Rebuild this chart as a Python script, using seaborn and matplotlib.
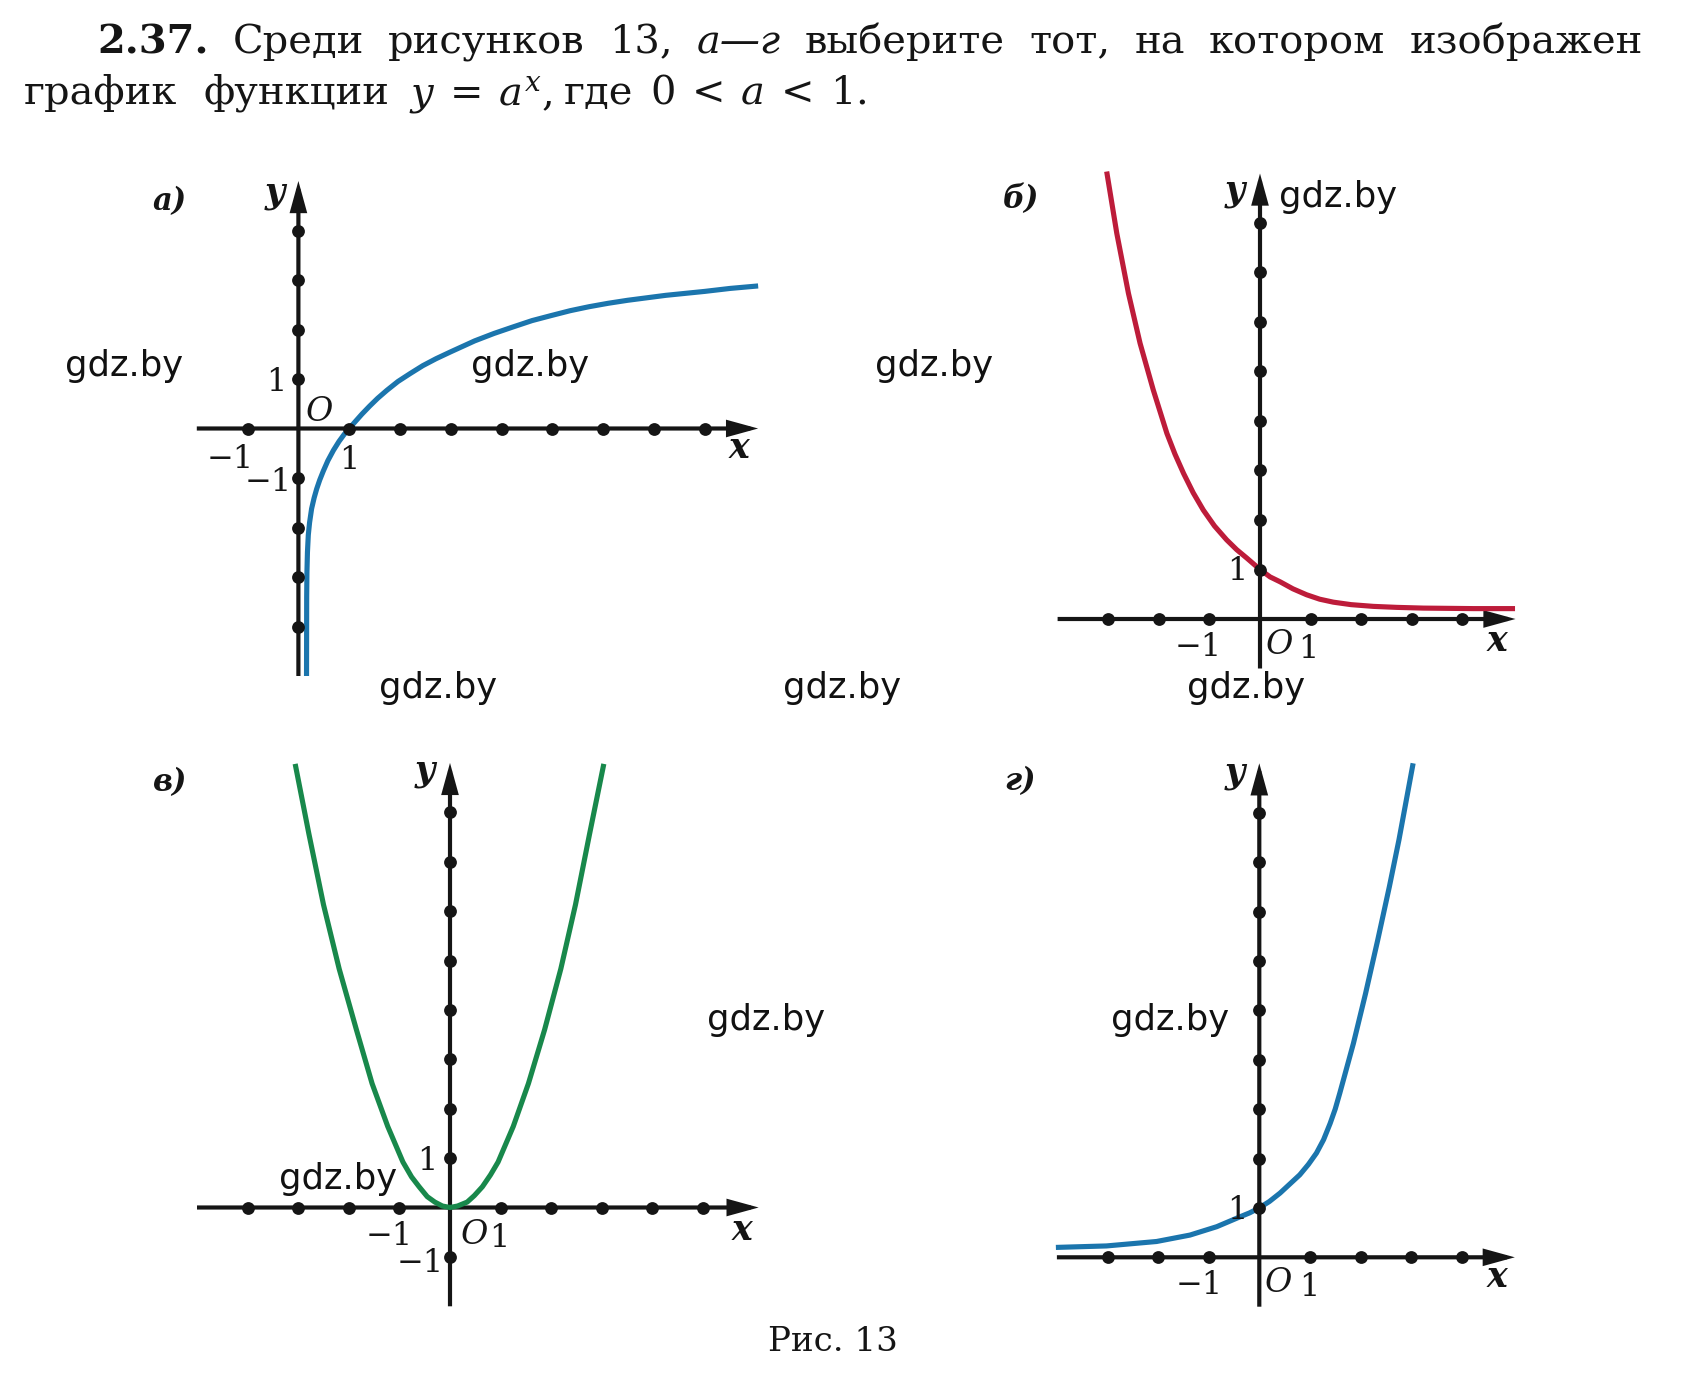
import matplotlib
matplotlib.use("Agg")
import matplotlib.pyplot as plt
import seaborn as sns
import pandas as pd

# ---------------- data ----------------
# panel а) : logarithm-like curve
a_curve_x = [0.16, 0.163, 0.168, 0.178, 0.195, 0.22, 0.26, 0.31, 0.36, 0.42, 0.49, 0.58,
             0.69, 0.80, 0.90, 1.0, 1.12, 1.25, 1.40, 1.56, 1.74, 1.96, 2.2, 2.45, 2.71,
             3.0, 3.47, 3.85, 4.22, 4.6, 4.97, 5.35, 5.72, 6.1, 6.48, 7.23, 8.0, 8.5, 9.05]
a_curve_y = [-5.0, -3.4, -2.9, -2.5, -2.15, -1.9, -1.62, -1.40, -1.22, -1.04, -0.86, -0.65,
             -0.44, -0.26, -0.12, 0.0, 0.14, 0.29, 0.45, 0.61, 0.77, 0.95, 1.11, 1.27, 1.41,
             1.55, 1.77, 1.92, 2.05, 2.18, 2.28, 2.38, 2.46, 2.53, 2.59, 2.69, 2.77, 2.83, 2.88]
a_xdots = [-1, 1, 2, 3, 4, 5, 6, 7, 8]
a_ydots = [-4, -3, -2, -1, 1, 2, 3, 4]
a_xaxis = [-2.0, 9.05]
a_yaxis = [-5.0, 5.0]

# panel б) : decreasing exponent
b_curve_x = [-3.03, -2.83, -2.60, -2.37, -2.11, -1.84, -1.68, -1.51, -1.32, -1.12, -0.90,
             -0.66, -0.46, -0.26, 0.0, 0.20, 0.40, 0.65, 0.92, 1.18, 1.45, 1.80, 2.24, 2.70,
             3.23, 4.22, 5.04]
b_curve_y = [9.04, 7.79, 6.58, 5.57, 4.63, 3.75, 3.33, 2.94, 2.55, 2.20, 1.88,
             1.60, 1.40, 1.23, 1.0, 0.85, 0.75, 0.61, 0.49, 0.40, 0.34, 0.29, 0.255, 0.235,
             0.22, 0.21, 0.21]
b_xdots = [-3, -2, -1, 1, 2, 3, 4]
b_ydots = [1, 2, 3, 4, 5, 6, 7, 8]
b_xaxis = [-4.0, 5.05]
b_yaxis = [-1.0, 9.0]

# panel в) : parabola
c_curve_x = [-3.06, -2.79, -2.50, -2.19, -1.85, -1.54, -1.23, -0.93, -0.76, -0.61, -0.45,
             -0.30, -0.15, 0.0, 0.15, 0.34, 0.48, 0.64, 0.80, 0.95, 1.25, 1.55, 1.87, 2.19,
             2.48, 2.76, 3.04]
c_curve_y = [8.98, 7.57, 6.13, 4.83, 3.60, 2.51, 1.64, 0.92, 0.62, 0.42, 0.22,
             0.11, 0.03, 0.0, 0.03, 0.11, 0.24, 0.42, 0.66, 0.92, 1.64, 2.51, 3.60, 4.83,
             6.13, 7.57, 8.98]
c_xdots = [-4, -3, -2, -1, 1, 2, 3, 4, 5]
c_ydots = [-1, 1, 2, 3, 4, 5, 6, 7, 8]
c_xaxis = [-5.0, 6.1]
c_yaxis = [-2.0, 9.0]

# panel г) : increasing exponent
d_curve_x = [-4.02, -3.02, -2.03, -1.37, -0.84, -0.38, -0.19, 0.0, 0.20, 0.41, 0.80, 0.97,
             1.13, 1.27, 1.40, 1.50, 1.59, 1.86, 2.10, 2.34, 2.57, 2.76, 3.04]
d_curve_y = [0.20, 0.23, 0.32, 0.45, 0.62, 0.82, 0.90, 1.0, 1.13, 1.30, 1.67, 1.88,
             2.11, 2.38, 2.71, 3.0, 3.32, 4.33, 5.34, 6.42, 7.50, 8.45, 10.0]
d_xdots = [-3, -2, -1, 1, 2, 3, 4]
d_ydots = [1, 2, 3, 4, 5, 6, 7, 8, 9]
d_xaxis = [-4.0, 5.05]
d_yaxis = [-1.0, 10.0]

panel_names = ["а)", "б)", "в)", "г)"]
title1_words = ["2.37.", "Среди", "рисунков", "13,", "а—г", "выберите", "тот,", "на",
                "котором", "изображен"]
title2_words = ["график", "функции", r"$y\:=\:a^{x}$,", "где", r"$0\:<\:a\:<\:1$."]
caption = "Рис. 13"
watermark = "gdz.by"

# ---------------- style ----------------
sns.set_style("white")
plt.rcParams['font.family'] = ['DejaVu Serif', 'DejaVu Sans']
plt.rcParams['mathtext.fontset'] = 'dejavuserif'

INK = '#151515'
BLUE = '#1b75ad'
RED = '#bd1c3a'
GREEN = '#18884b'

W, H = 1684, 1384
fig = plt.figure(figsize=(W / 100, H / 100), dpi=100)
fig.patch.set_facecolor('white')


def ftext(px, py, s, **kw):
    return fig.text(px / W, 1 - py / H, s, **kw)


def add_panel(ox, oy, ux, uy, xr, yr):
    xl, xh = xr[0] - 1.2, xr[1] + 1.2
    yl, yh = yr[0] - 1.2, yr[1] + 1.2
    rect = [(ox + xl * ux) / W, 1 - (oy - yl * uy) / H,
            (xh - xl) * ux / W, (yh - yl) * uy / H]
    ax = fig.add_axes(rect)
    ax.set_xlim(xl, xh)
    ax.set_ylim(yl, yh)
    ax.set_axis_off()
    ax.patch.set_alpha(0)
    return ax


def draw_panel(ax, xaxis, yaxis, xdots, ydots, cx, cy, color):
    arrow = dict(arrowstyle='-|>,head_length=0.8,head_width=0.22', lw=3.0,
                 color=INK, shrinkA=0, shrinkB=0, mutation_scale=20,
                 joinstyle='miter', capstyle='butt')
    ax.annotate('', xy=(xaxis[1], 0), xytext=(xaxis[0], 0), arrowprops=arrow, zorder=2)
    ax.annotate('', xy=(0, yaxis[1]), xytext=(0, yaxis[0]), arrowprops=arrow, zorder=2)
    curve = pd.DataFrame({'x': cx, 'y': cy})
    sns.lineplot(data=curve, x='x', y='y', sort=False, estimator=None, color=color,
                 linewidth=3.7, ax=ax, zorder=3, solid_capstyle='butt',
                 solid_joinstyle='round')
    dots = pd.DataFrame({'x': list(xdots) + [0] * len(ydots),
                         'y': [0] * len(xdots) + list(ydots)})
    sns.scatterplot(data=dots, x='x', y='y', s=85, color=INK, linewidth=0, ax=ax, zorder=4)
    ax.set_axis_off()


axA = add_panel(298.4, 428.5, 50.8, 49.5, a_xaxis, a_yaxis)
draw_panel(axA, a_xaxis, a_yaxis, a_xdots, a_ydots, a_curve_x, a_curve_y, BLUE)
axB = add_panel(1260.0, 619.0, 50.6, 49.5, b_xaxis, b_yaxis)
draw_panel(axB, b_xaxis, b_yaxis, b_xdots, b_ydots, b_curve_x, b_curve_y, RED)
axC = add_panel(450.0, 1207.5, 50.6, 49.4, c_xaxis, c_yaxis)
draw_panel(axC, c_xaxis, c_yaxis, c_xdots, c_ydots, c_curve_x, c_curve_y, GREEN)
axD = add_panel(1259.3, 1257.3, 50.6, 49.4, d_xaxis, d_yaxis)
draw_panel(axD, d_xaxis, d_yaxis, d_xdots, d_ydots, d_curve_x, d_curve_y, BLUE)

# ---------------- axis annotations ----------------
num = dict(fontsize=23, color=INK, ha='center', va='baseline', family='DejaVu Serif')
ital = dict(fontsize=24, color=INK, ha='center', va='baseline', family='DejaVu Serif',
            fontstyle='italic')
axl = dict(fontsize=25, color=INK, ha='center', va='baseline', family='DejaVu Serif',
           fontstyle='italic', fontweight='bold')
pnl = dict(fontsize=22, color=INK, ha='center', va='baseline', family='DejaVu Serif',
           fontstyle='italic', fontweight='bold')

# panel а
ftext(170, 210, panel_names[0], **pnl)
ftext(275, 203, 'y', **axl)
ftext(739, 458, 'x', **axl)
ftext(276, 391, '1', **num)
ftext(319, 421, 'O', **ital)
ftext(230, 468, '−1', **num)
ftext(349, 469, '1', **num)
ftext(268, 491, '−1', **num)
# panel б
ftext(1021, 208, panel_names[1], **pnl)
ftext(1235, 201, 'y', **axl)
ftext(1497, 651, 'x', **axl)
ftext(1237, 580, '1', **num)
ftext(1198, 656, '−1', **num)
ftext(1279, 654, 'O', **ital)
ftext(1308, 658, '1', **num)
# panel в
ftext(170, 791, panel_names[2], **pnl)
ftext(425, 781, 'y', **axl)
ftext(742, 1240, 'x', **axl)
ftext(427, 1170, '1', **num)
ftext(389, 1245, '−1', **num)
ftext(474, 1244, 'O', **ital)
ftext(499, 1247, '1', **num)
ftext(420, 1272, '−1', **num)
# panel г
ftext(1020, 790, panel_names[3], **pnl)
ftext(1235, 783, 'y', **axl)
ftext(1497, 1287, 'x', **axl)
ftext(1237, 1219, '1', **num)
ftext(1199, 1294, '−1', **num)
ftext(1278, 1292, 'O', **ital)
ftext(1309, 1296, '1', **num)

# ---------------- watermarks ----------------
wm = dict(fontsize=25.5, color='#111111', ha='center', va='center', family='DejaVu Sans')
for (px, py) in [(124, 366), (530, 366), (934, 366), (1338, 197),
                 (438, 688), (842, 688), (1246, 688),
                 (766, 1020), (1170, 1020), (338, 1179)]:
    ftext(px, py, watermark, **wm)

# ---------------- title ----------------
renderer = fig.canvas.get_renderer()
t1_styles = [dict(fontweight='bold')] + [dict()] * 3 + [dict(fontstyle='italic')] + [dict()] * 5
texts = []
for w, st in zip(title1_words, t1_styles):
    texts.append(ftext(0, 53, w, fontsize=28.8, color=INK, ha='left', va='baseline',
                       family='DejaVu Serif', **st))
widths = [t.get_window_extent(renderer).width for t in texts]
gap = (1643 - 97 - sum(widths)) / (len(texts) - 1)
xpos = 97
for t, wd in zip(texts, widths):
    t.set_x(xpos / W)
    xpos += wd + gap

# second line: left aligned, laid out word by word
gaps2 = [26, 20, 12, 16]
xpos = 24
for i, w in enumerate(title2_words):
    t = ftext(xpos, 104, w, fontsize=28.8, color=INK, ha='left', va='baseline',
              family='DejaVu Serif')
    if i < len(gaps2):
        xpos += t.get_window_extent(renderer).width + gaps2[i]

ftext(833, 1351, caption, fontsize=24.5, color=INK, ha='center', va='baseline',
      family='DejaVu Serif')

fig.savefig('out.png', dpi=100, facecolor='white')
